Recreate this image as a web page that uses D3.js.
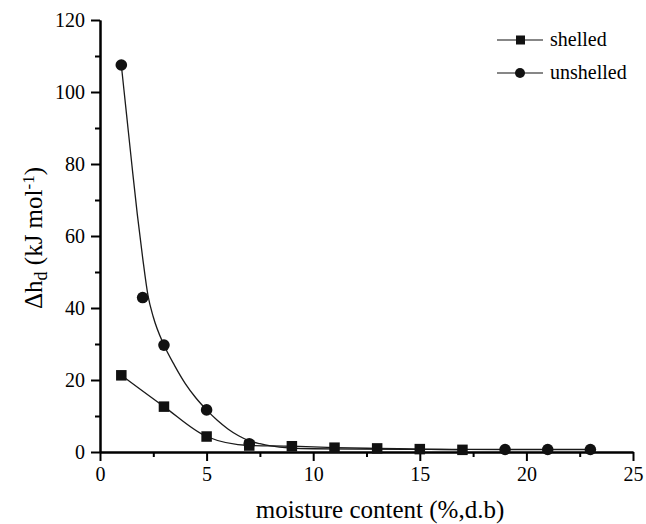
<!DOCTYPE html>
<html>
<head>
<meta charset="utf-8">
<script src="https://cdn.jsdelivr.net/npm/d3@7"></script>
<style>
  html, body { margin: 0; padding: 0; background: #fff; }
  svg { display: block; }
  svg text { font-family: "Liberation Serif", Tinos, "Times New Roman", Times, "DejaVu Serif", serif !important; fill: #000; }
</style>
</head>
<body>
<svg id="chart" width="646" height="524"></svg>
<script>
// ---- data ----
const shelledX = [1, 3, 5, 7, 9, 11, 13, 15, 17];
const shelledY = [21.3, 12.6, 4.3, 1.8, 1.6, 1.2, 1.0, 0.8, 0.6];

const unshelledX = [1, 2, 3, 5, 7, 19, 21, 23];
const unshelledY = [107.5, 42.9, 29.7, 11.7, 2.3, 0.7, 0.7, 0.7];

// fitted curve for the unshelled series
const unshelledFitX = [1, 1.25, 1.5, 1.75, 2, 2.25, 2.5, 3, 3.5, 4, 4.5, 5, 5.5, 6, 6.5, 7, 7.5, 8, 9, 10, 12, 15, 19, 23];
const unshelledFitY = [107.5, 93.5, 79.5, 66, 54, 43.5, 37.5, 29.7, 24, 19, 15, 11.7, 8.8, 6.4, 4.5, 3.1, 2.3, 1.7, 1.1, 0.9, 0.8, 0.75, 0.7, 0.7];

const xMajorTicks = [0, 5, 10, 15, 20, 25];
const xMinorTicks = [2.5, 7.5, 12.5, 17.5, 22.5];
const yMajorTicks = [0, 20, 40, 60, 80, 100, 120];
const yMinorTicks = [10, 30, 50, 70, 90, 110];

const legendLabels = ["shelled", "unshelled"];

// ---- layout ----
const FONT = '"Liberation Serif", Tinos, "Times New Roman", Times, "DejaVu Serif", serif';
const svg = d3.select("#chart");
const x = d3.scaleLinear().domain([0, 25]).range([100, 633]);
const y = d3.scaleLinear().domain([0, 120]).range([452, 20]);

// curves
const line = d3.line().x(d => x(d[0])).y(d => y(d[1])).curve(d3.curveMonotoneX);

svg.append("path")
  .datum(d3.zip(unshelledFitX, unshelledFitY))
  .attr("d", line)
  .attr("fill", "none").attr("stroke", "#1a1a1a").attr("stroke-width", 1.3);

svg.append("path")
  .datum(d3.zip(shelledX, shelledY))
  .attr("d", line)
  .attr("fill", "none").attr("stroke", "#1a1a1a").attr("stroke-width", 1.3);

// axes
function styleAxis(g) {
  g.attr("font-family", FONT).attr("font-size", 20);
  g.select(".domain").attr("stroke", "#000").attr("stroke-width", 2);
  g.selectAll(".tick line").attr("stroke", "#000").attr("stroke-width", 2);
  g.selectAll(".tick text").attr("fill", "#000");
}

svg.append("g").attr("transform", "translate(0,452)")
  .call(d3.axisBottom(x).tickValues(xMinorTicks).tickSize(5).tickSizeOuter(0).tickFormat(""))
  .call(styleAxis);
svg.append("g").attr("transform", "translate(0,452)")
  .call(d3.axisBottom(x).tickValues(xMajorTicks).tickSize(9).tickSizeOuter(0).tickPadding(6).tickFormat(d3.format("d")))
  .call(styleAxis);

svg.append("g").attr("transform", "translate(100,0)")
  .call(d3.axisLeft(y).tickValues(yMinorTicks).tickSize(5).tickSizeOuter(0).tickFormat(""))
  .call(styleAxis);
svg.append("g").attr("transform", "translate(100,0)")
  .call(d3.axisLeft(y).tickValues(yMajorTicks).tickSize(9).tickSizeOuter(0).tickPadding(6).tickFormat(d3.format("d")))
  .call(styleAxis);

// markers
svg.append("g").selectAll("circle")
  .data(d3.zip(unshelledX, unshelledY))
  .join("circle")
  .attr("cx", d => x(d[0])).attr("cy", d => y(d[1])).attr("r", 5.8)
  .attr("fill", "#111");

const sq = 10.5;
svg.append("g").selectAll("rect")
  .data(d3.zip(shelledX, shelledY))
  .join("rect")
  .attr("x", d => x(d[0]) - sq / 2).attr("y", d => y(d[1]) - sq / 2)
  .attr("width", sq).attr("height", sq)
  .attr("fill", "#111");

// axis titles
svg.append("text")
  .attr("x", 380).attr("y", 518)
  .attr("text-anchor", "middle")
  .attr("font-family", FONT)
  .style("font-size", "25px")
  .text("moisture content (%,d.b)");

const yt = svg.append("text")
  .attr("transform", "translate(42,238) rotate(-90)")
  .attr("text-anchor", "middle")
  .attr("font-family", FONT)
  .style("font-size", "25px");
yt.append("tspan").text("\u0394h");
yt.append("tspan").attr("baseline-shift", "-30%").style("font-size", "18px").text("d");
yt.append("tspan").text(" (kJ mol");
yt.append("tspan").attr("baseline-shift", "45%").style("font-size", "17px").text("-1");
yt.append("tspan").text(")");

// legend
const legendY = [40, 73];
const lg = svg.append("g");
legendLabels.forEach((lab, i) => {
  const ly = legendY[i];
  lg.append("line").attr("x1", 497).attr("x2", 543).attr("y1", ly).attr("y2", ly)
    .attr("stroke", "#111").attr("stroke-width", 1.2);
  if (i === 0) {
    lg.append("rect").attr("x", 516).attr("y", ly - 4.5).attr("width", 9).attr("height", 9).attr("fill", "#111");
  } else {
    lg.append("circle").attr("cx", 520).attr("cy", ly).attr("r", 5).attr("fill", "#111");
  }
  lg.append("text").attr("x", 550).attr("y", ly + 6)
    .attr("font-family", FONT)
    .style("font-size", "20px").text(lab);
});
</script>
</body>
</html>
